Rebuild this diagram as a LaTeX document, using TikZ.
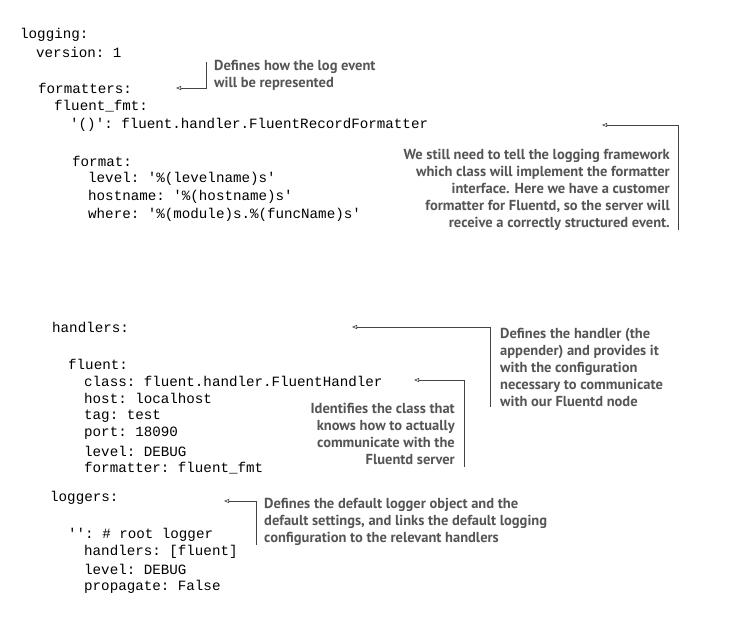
\documentclass[tikz,border=0pt]{standalone}
\usepackage{fontspec}
\setmonofont{Liberation Mono}
\newfontfamily\notefont{PT Sans}
\usetikzlibrary{arrows.meta}
\definecolor{notegray}{HTML}{555555}
\definecolor{linegray}{HTML}{444444}
\begin{document}
\begin{tikzpicture}[x=1pt,y=-1pt,
  code/.style={anchor=west,inner sep=0,font=\ttfamily\fontsize{14.2}{15}\selectfont},
  note/.style={inner sep=0,font=\notefont\bfseries\fontsize{14.5}{17}\selectfont,text=notegray},
  callout/.style={draw=linegray,line width=0.6pt,{Triangle[open,length=5pt,width=4pt]}-}]
\useasboundingbox (0,0) rectangle (741,632);
\node[code] (c1) at (20,35) {logging:};
\node[code] (c2) at (36,52) {version: 1};
\node[code] (c3) at (38,88) {formatters:};
\node[code] (c4) at (54,106) {fluent\_fmt:};
\node[code] (c5) at (70,125) {'()': fluent.handler.FluentRecordFormatter};
\node[code] (c6) at (72,161) {format:};
\node[code] (c7) at (88,179) {level: '\%(levelname)s'};
\node[code] (c8) at (88,197) {hostname: '\%(hostname)s'};
\node[code] (c9) at (88,215) {where: '\%(module)s.\%(funcName)s'};
\node[code] (d1) at (52,327) {handlers:};
\node[code] (d2) at (68,364) {fluent:};
\node[code] (d3) at (84,381) {class: fluent.handler.FluentHandler};
\node[code] (d4) at (84,398) {host: localhost};
\node[code] (d5) at (84,416) {tag: test};
\node[code] (d6) at (84,433) {port: 18090};
\node[code] (d7) at (84,451) {level: DEBUG};
\node[code] (d8) at (84,468) {formatter: fluent\_fmt};
\node[code] (e1) at (50,498) {loggers:};
\node[code] (e2) at (68,535) {'': \# root logger};
\node[code] (e3) at (84,552) {handlers: [fluent]};
\node[code] (e4) at (84,569) {level: DEBUG};
\node[code] (e5) at (84,587) {propagate: False};
% notes
\node[note,anchor=north west,align=left] (n1) at (214,60) {Defines how the log event\\will be represented};
\node[note,anchor=north east,align=right] (n2) at (670,149) {We still need to tell the logging framework\\which class will implement the formatter\\interface. Here we have a customer\\formatter for Fluentd, so the server will\\receive a correctly structured event.};
\node[note,anchor=north west,align=left] (n3) at (500,328) {Defines the handler (the\\appender) and provides it\\with the configuration\\necessary to communicate\\with our Fluentd node};
\node[note,anchor=north east,align=right] (n4) at (455,403) {Identifies the class that\\knows how to actually\\communicate with the\\Fluentd server};
\node[note,anchor=north west,align=left] (n5) at (264,498) {Defines the default logger object and the\\default settings, and links the default logging\\configuration to the relevant handlers};
% callouts
\coordinate (t1) at (176,88); \coordinate (k1) at (206,88); \coordinate (u1) at (206,62);
\draw[callout] (t1) -- (k1) -- (u1);
\coordinate (t2) at (602,125); \coordinate (k2) at (678,125); \coordinate (u2) at (678,230);
\draw[callout] (t2) -- (k2) -- (u2);
\coordinate (t3) at (352,327); \coordinate (k3) at (490,327); \coordinate (u3) at (490,407);
\draw[callout] (t3) -- (k3) -- (u3);
\coordinate (t4) at (414,380); \coordinate (k4) at (464,380); \coordinate (u4) at (464,467);
\draw[callout] (t4) -- (k4) -- (u4);
\coordinate (t5) at (224,501); \coordinate (k5) at (256,501); \coordinate (u5) at (256,545);
\draw[callout] (t5) -- (k5) -- (u5);
\end{tikzpicture}
\end{document}
